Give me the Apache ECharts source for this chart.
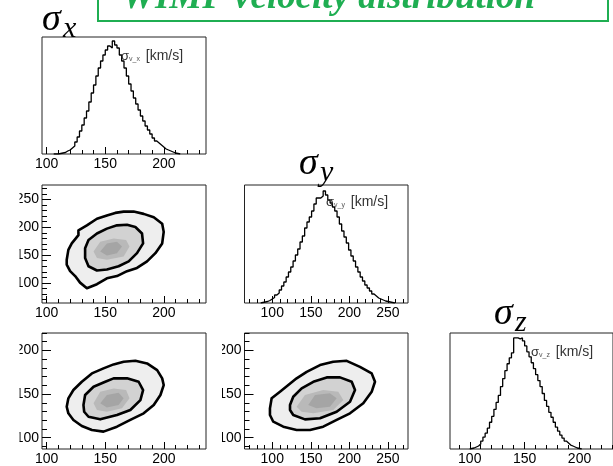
<!DOCTYPE html>
<html>
<head>
<meta charset="utf-8">
<script src="https://cdn.jsdelivr.net/npm/echarts@6/dist/echarts.min.js"></script>
<style>
  html, body { margin: 0; padding: 0; background: #fff; }
  #chart { width: 613px; height: 466px; }
</style>
</head>
<body>
<div id="chart"></div>
<script>
// ---- 1D marginal histograms (bin lower edge, bin width, counts) ----
const sxBinStart = 106, sxBinWidth = 2;
const sxCounts = [0, 0, 0.5, 1, 1.5, 3, 4, 6, 8, 12, 17, 23, 29, 36, 43, 52, 61, 69, 78, 86,
  93, 99, 104, 108, 106, 113, 109, 106, 99, 93, 86, 78, 70, 63, 56, 50, 44, 38, 33, 28,
  24, 20, 16, 13, 11, 9, 7, 5, 4, 3, 2, 1, 0.5, 0];

const syBinStart = 85, syBinWidth = 3;
const syCounts = [0.5, 1, 1.5, 2.5, 4, 5.5, 8, 10, 13, 17, 21, 26, 31, 36, 42, 48, 54, 61, 67, 75,
  81, 86, 92, 99, 105, 105, 107, 112, 108, 103, 100, 96, 92, 86, 79, 72, 66, 60, 53, 47,
  42, 36, 31, 26, 22, 18, 15, 12, 9, 7, 5, 4, 3, 2, 1.5, 1, 0.5, 0];

const szBinStart = 100, szBinWidth = 2;
const szCounts = [0.5, 1, 2, 3, 5, 8, 12, 16, 21, 27, 33, 40, 47, 54, 63, 71, 79, 86, 92, 97,
  112, 112, 111, 112, 109, 104, 98, 93, 87, 81, 75, 69, 63, 56, 49, 43, 37, 32, 27, 22,
  18, 14, 11, 8, 6, 4, 3, 2, 1, 0.5, 0];

// ---- 2D credible regions: outer (95%), inner (68%) and two density cores ----
const xyOuter = [[117.1,141.8],[118.5,159.4],[121.4,171.1],[127.1,185.9],[127.1,194.7],[134.3,203.5],
  [142.9,215.3],[151.4,221.2],[158.5,225.9],[165.7,228.2],[174.2,228.2],[182.8,224.1],[191.4,218.2],
  [198.6,206.5],[199.9,191.8],[198.6,171.1],[192.8,153.5],[185.7,138.8],[177.1,127.0],[168.6,121.2],
  [160.0,112.4],[151.4,108.3],[142.9,97.7],[134.3,90.6],[128.5,100.6],[124.3,112.4],[120.0,121.2],[117.1,132.9]];
const xyInner = [[132.8,162.3],[135.7,177.1],[142.9,188.8],[151.4,197.6],[160.0,203.5],[168.6,204.6],
  [175.7,200.6],[181.4,188.8],[182.3,171.1],[177.1,153.5],[170.0,138.8],[161.4,130.0],[151.4,124.2],
  [142.9,122.4],[135.7,130.0],[132.8,144.8]];
const xyCore1 = [[140.0,156.5],[145.7,174.1],[157.1,180.0],[167.8,177.1],[170.7,165.3],[165.7,147.6],
  [151.4,141.8],[142.9,144.8]];
const xyCore2 = [[145.7,156.5],[151.4,171.1],[160.0,174.1],[164.3,165.3],[160.0,153.5],[151.4,149.4]];

const xzOuter = [[117.1,135.5],[118.5,145.1],[122.8,154.6],[130.0,164.1],[138.6,173.7],[148.5,179.4],
  [157.1,184.0],[165.7,187.0],[175.7,188.1],[185.7,185.1],[194.3,177.5],[198.6,168.0],[199.9,160.3],
  [197.1,148.9],[191.4,137.4],[182.8,127.9],[171.4,120.3],[160.0,112.6],[148.5,106.9],[138.6,108.8],
  [130.0,113.4],[122.8,120.3],[118.5,127.9]];
const xzInner = [[131.4,137.4],[132.8,148.9],[140.0,158.4],[150.0,164.1],[157.1,168.0],[168.6,168.0],
  [178.5,164.1],[182.3,154.6],[180.0,143.1],[171.4,131.7],[160.0,126.0],[145.7,121.0],[135.7,124.0],[132.0,129.7]];
const xzCore1 = [[140.0,139.4],[145.7,152.6],[157.1,156.5],[167.8,154.6],[170.7,145.1],[164.3,133.6],
  [151.4,129.7],[142.9,131.7]];
const xzCore2 = [[145.7,139.4],[151.4,148.9],[161.4,151.5],[165.7,145.1],[161.4,137.4],[151.4,134.7]];

const yzOuter = [[97.0,133.6],[99.2,145.1],[110.0,152.6],[120.8,160.3],[131.6,168.0],[144.6,175.5],
  [161.9,183.2],[179.1,187.0],[196.5,188.1],[213.7,181.2],[228.9,173.7],[233.2,164.1],[228.9,152.6],
  [218.0,139.4],[200.8,127.9],[183.5,120.3],[166.1,112.6],[148.9,108.8],[131.6,108.8],[114.3,112.6],
  [101.3,118.3],[97.0,126.0]];
const yzInner = [[123.0,137.4],[127.2,146.9],[138.1,156.5],[153.2,164.1],[170.6,169.1],[187.8,169.1],
  [203.0,164.1],[207.3,154.6],[200.8,141.2],[183.5,129.7],[161.9,122.2],[142.4,121.0],[127.2,126.0],[123.0,131.7]];
const yzCore1 = [[131.6,135.5],[142.4,148.9],[166.1,154.6],[185.6,152.6],[192.1,143.1],[179.1,131.7],
  [153.2,127.9],[138.1,129.7]];
const yzCore2 = [[146.7,137.4],[155.4,148.9],[174.8,150.8],[183.5,145.1],[174.8,135.5],[157.3,133.6]];

// ---- axis ranges and tick values ----
const sxRange = [96, 236], syRange = [64, 276], szRange = [87, 220], szHistRange = [82, 230.5];
const sxMajor = [100, 150, 200];
const sxMinor = [100, 110, 120, 130, 140, 150, 160, 170, 180, 190, 200, 210, 220, 230];
const syMajor = [100, 150, 200, 250];
const syMinor = [70, 80, 90, 100, 110, 120, 130, 140, 150, 160, 170, 180, 190, 200, 210, 220, 230, 240, 250, 260, 270];
const szMajor = [100, 150, 200];
const szMinor = [90, 100, 110, 120, 130, 140, 150, 160, 170, 180, 190, 200, 210, 220, 230];

// ---- styling ----
const regionFills = ['#eeeeee', '#d2d2d2', '#b9b9b9', '#a5a5a5'];
const regionOutlined = [true, true, false, false];
const labelFont = 'Liberation Sans, Arial, sans-serif';
const serif = 'Liberation Serif, Times New Roman, serif';

const grid = [], xAxis = [], yAxis = [], series = [];

function majorAxis(g, range, ticks, pos, tickLen) {
  return {
    gridIndex: g, type: 'value', position: pos, min: range[0], max: range[1],
    axisLine: { show: false }, splitLine: { show: false },
    axisTick: { show: true, inside: true, length: tickLen, customValues: ticks,
      lineStyle: { color: '#000', width: 1 } },
    axisLabel: { show: true, customValues: ticks, margin: 3, fontFamily: labelFont,
      fontSize: 14, color: '#000' }
  };
}
function minorAxis(g, range, ticks, pos, tickLen) {
  return {
    gridIndex: g, type: 'value', position: pos, min: range[0], max: range[1],
    axisLine: { show: false }, splitLine: { show: false }, axisLabel: { show: false },
    axisTick: { show: true, inside: true, length: tickLen, customValues: ticks,
      lineStyle: { color: '#000', width: 1 } }
  };
}

function addPanel(rect, xr, xMaj, xMin, yr, yMaj, yMin) {
  const g = grid.length;
  grid.push({ left: rect[0], top: rect[1], width: rect[2], height: rect[3],
    show: true, borderColor: '#222', borderWidth: 1, backgroundColor: 'rgba(0,0,0,0)' });
  const xi = xAxis.length;
  xAxis.push(majorAxis(g, xr, xMaj, 'bottom', 7), minorAxis(g, xr, xMin, 'bottom', 4));
  const yi = yAxis.length;
  if (yMaj) {
    yAxis.push(majorAxis(g, yr, yMaj, 'left', 9), minorAxis(g, yr, yMin, 'left', 5));
  } else {
    yAxis.push({ gridIndex: g, type: 'value', min: yr[0], max: yr[1], show: false,
      splitLine: { show: false } });
  }
  return { xi, yi };
}

function addHist(ax, start, width, counts) {
  const pts = [[start, 0]];
  counts.forEach((c, i) => pts.push([start + i * width, c]));
  pts.push([start + counts.length * width, 0]);
  series.push({
    type: 'line', xAxisIndex: ax.xi, yAxisIndex: ax.yi, data: pts, step: 'end',
    symbol: 'none', clip: true, silent: true, z: 3,
    lineStyle: { color: '#000', width: 1.3 }
  });
}

function addRegions(ax, polys) {
  series.push({
    type: 'custom', xAxisIndex: ax.xi, yAxisIndex: ax.yi, clip: true, silent: true, z: 2,
    data: polys.map((p, i) => [p[0][0], p[0][1], i]),
    renderItem: (params, api) => {
      const i = params.dataIndex;
      const pts = polys[i].map(p => api.coord(p));
      return {
        type: 'polygon', shape: { points: pts },
        style: { fill: regionFills[i], stroke: regionOutlined[i] ? '#000' : null,
          lineWidth: regionOutlined[i] ? 2.6 : 0, lineJoin: 'round' }
      };
    }
  });
}

// row 1
const pX = addPanel([42, 37, 164, 117], sxRange, sxMajor, sxMinor, [0, 117]);
addHist(pX, sxBinStart, sxBinWidth, sxCounts);
// row 2
const pXY = addPanel([42, 185, 164, 118], sxRange, sxMajor, sxMinor, syRange, syMajor, syMinor);
addRegions(pXY, [xyOuter, xyInner, xyCore1, xyCore2]);
const pY = addPanel([244.5, 185, 163.5, 118], syRange, syMajor, syMinor, [0, 118]);
addHist(pY, syBinStart, syBinWidth, syCounts);
// row 3
const pXZ = addPanel([42, 333, 164, 116], sxRange, sxMajor, sxMinor, szRange, szMajor, szMinor);
addRegions(pXZ, [xzOuter, xzInner, xzCore1, xzCore2]);
const pYZ = addPanel([244.5, 333, 163.5, 116], syRange, syMajor, syMinor, szRange, szMajor, szMinor);
addRegions(pYZ, [yzOuter, yzInner, yzCore1, yzCore2]);
const pZ = addPanel([450, 333, 164, 116], szHistRange, szMajor, szMinor, [0, 117]);
addHist(pZ, szBinStart, szBinWidth, szCounts);

// axis-title text inside each histogram frame
function varLabel(x, y, sub) {
  return {
    type: 'text', x: x, y: y, z: 10, silent: true,
    style: {
      text: '{g|σ}{s|' + sub + '} [km/s]', fill: '#333', font: '14px ' + labelFont,
      rich: {
        g: { fontSize: 13, fontFamily: labelFont, fill: '#333' },
        s: { fontSize: 7, fontFamily: labelFont, fill: '#555', verticalAlign: 'bottom', padding: [6, 2, 0, 0] }
      }
    }
  };
}

// large parameter symbols above each diagonal panel
function bigSymbol(x, y, sub) {
  return [
    { type: 'text', x: x, y: y, z: 10, silent: true,
      style: { text: 'σ', font: 'italic 38px ' + serif, fill: '#000', verticalAlign: 'top' } },
    { type: 'text', x: x + 21, y: y + 13, z: 10, silent: true,
      style: { text: sub, font: 'italic 30px ' + serif, fill: '#000', verticalAlign: 'top' } }
  ];
}

const green = '#1fae52';
const graphic = [
  { type: 'rect', z: 20, shape: { x: 98, y: -20, width: 510, height: 41 },
    style: { fill: '#fff', stroke: green, lineWidth: 2 } },
  { type: 'text', z: 21, x: 122, y: 17, silent: true,
    style: { text: 'WIMP velocity distribution', font: 'italic bold 37px ' + serif,
      fill: green, verticalAlign: 'bottom' } },
  // the axis label pads clip the leading digits of the y labels
  { type: 'rect', z: 30, shape: { x: 0, y: 175, width: 19.5, height: 285 }, style: { fill: '#fff' } },
  { type: 'rect', z: 30, shape: { x: 207.5, y: 320, width: 14.5, height: 140 }, style: { fill: '#fff' } },
  varLabel(121, 49, 'v_x'),
  varLabel(326, 195, 'v_y'),
  varLabel(531, 345, 'v_z'),
  ...bigSymbol(42, 1, 'x'),
  ...bigSymbol(299, 145, 'y'),
  ...bigSymbol(494, 295, 'z')
];

const chart = echarts.init(document.getElementById('chart'), null, { renderer: 'canvas' });
chart.setOption({
  backgroundColor: '#fff',
  animation: false,
  grid: grid,
  xAxis: xAxis,
  yAxis: yAxis,
  series: series,
  graphic: graphic
});
</script>
</body>
</html>
